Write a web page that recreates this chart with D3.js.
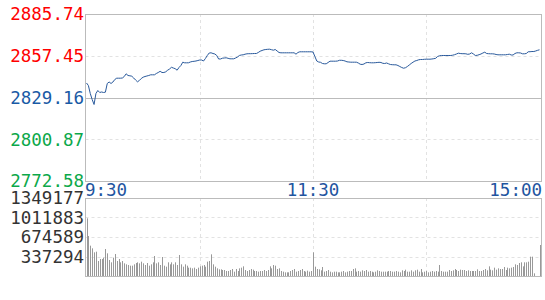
<!DOCTYPE html>
<html><head><meta charset="utf-8">
<script src="https://cdn.jsdelivr.net/npm/d3@7"></script>
<style>html,body{margin:0;padding:0;background:#fff;}svg{display:block;}</style>
</head><body><svg id="c" width="545" height="300"></svg>
<script>
const priceTicks = [2885.74, 2857.45, 2829.16, 2800.87, 2772.58];
const volTicks = [1349177, 1011883, 674589, 337294];
const timeLabels = ["9:30", "11:30", "15:00"];
const prices = [
2838.99,2837.29,2831.87,2827.80,2824.42,2831.87,2833.90,2832.55,2832.89,2832.55,
2832.75,2838.65,2839.66,2838.65,2839.66,2841.36,2842.24,2842.24,2842.24,2842.37,
2843.39,2845.22,2844.07,2843.86,2843.59,2842.37,2841.02,2839.80,2840.68,2842.03,
2842.92,2843.39,2843.73,2844.07,2844.54,2844.54,2844.54,2845.42,2846.10,2846.91,
2846.10,2846.10,2846.57,2847.66,2848.47,2849.62,2849.15,2848.67,2847.66,2849.49,
2850.84,2853.08,2852.67,2852.67,2852.67,2853.21,2853.55,2853.69,2853.89,2854.23,
2854.57,2854.57,2853.89,2855.59,2857.62,2859.31,2859.45,2858.97,2858.64,2857.62,
2855.25,2855.25,2855.79,2855.93,2856.06,2855.72,2855.38,2855.38,2855.38,2855.93,
2856.60,2857.62,2857.96,2858.09,2858.50,2858.77,2858.84,2858.84,2858.91,2858.97,
2858.97,2859.65,2860.53,2861.01,2861.48,2861.68,2861.82,2861.89,2861.55,2861.21,
2861.68,2860.67,2859.65,2859.45,2859.45,2859.45,2859.45,2859.45,2859.45,2859.45,
2859.45,2858.50,2859.65,2860.13,2860.13,2860.13,2860.13,2860.13,2860.13,2860.13,
2859.99,2856.94,2853.89,2853.21,2853.01,2852.20,2852.00,2852.00,2852.88,2853.76,
2853.76,2853.76,2853.76,2853.89,2854.37,2854.37,2854.23,2853.89,2853.35,2853.21,
2853.08,2853.08,2853.08,2853.08,2852.54,2851.72,2851.52,2851.86,2852.67,2852.88,
2852.74,2852.67,2852.67,2852.74,2852.88,2853.01,2852.88,2852.33,2852.20,2852.54,
2852.00,2851.52,2851.39,2851.32,2851.32,2850.84,2850.17,2849.49,2849.01,2849.35,
2850.17,2851.18,2852.20,2853.08,2853.89,2854.23,2854.71,2854.91,2854.91,2855.04,
2855.11,2855.11,2855.11,2855.25,2855.45,2855.72,2856.94,2857.42,2857.62,2857.62,
2857.62,2857.62,2857.62,2857.62,2857.82,2858.16,2858.64,2859.18,2858.97,2858.84,
2858.84,2858.77,2858.43,2858.64,2859.45,2858.64,2857.62,2857.75,2858.16,2858.64,
2859.31,2859.86,2858.97,2858.84,2858.77,2858.77,2858.64,2858.30,2858.09,2858.09,
2858.09,2858.09,2858.09,2858.30,2858.50,2857.96,2857.96,2858.97,2859.45,2859.45,
2859.31,2858.77,2858.77,2858.97,2860.13,2860.19,2860.33,2860.33,2860.67,2861.14,
2861.48];
const volumes = [
997500,691900,524700,478600,409400,420900,259500,294100,294100,317100,
467000,392100,276800,236400,317100,380600,259500,294100,236400,259500,
219100,201800,190300,178700,178700,201800,224900,236400,219100,247900,
219100,190300,224900,178700,201800,236400,346000,219100,236400,190300,
328700,178700,161400,236400,201800,236400,201800,236400,190300,363300,
201800,161400,201800,178700,144200,144200,132600,144200,121100,144200,
167200,178700,190300,161400,247900,259500,374800,201800,161400,132600,
115300,115300,103800,103800,86500,86500,103800,121100,75000,121100,
86500,132600,144200,167200,103800,86500,103800,121100,109600,86500,
86500,75000,86500,86500,103800,86500,103800,167200,132600,190300,
178700,121100,132600,86500,75000,63400,63400,63400,86500,103800,
121100,75000,86500,103800,121100,86500,75000,92300,75000,86500,
409400,161400,121100,115300,98000,155700,75000,86500,103800,75000,
63400,75000,75000,63400,63400,75000,86500,63400,75000,86500,
86500,121100,132600,75000,86500,75000,98000,86500,103800,75000,
86500,75000,63400,75000,98000,86500,75000,75000,75000,75000,
86500,86500,75000,75000,86500,75000,63400,98000,86500,109600,
75000,75000,98000,75000,98000,109600,75000,121100,63400,75000,
86500,63400,75000,86500,75000,86500,75000,190300,86500,75000,
75000,75000,103800,86500,98000,121100,103800,86500,109600,103800,
103800,86500,98000,86500,86500,86500,86500,115300,86500,86500,
103800,121100,98000,167200,109600,98000,144200,109600,132600,121100,
121100,155700,103800,144200,132600,144200,155700,201800,190300,224900,
236400,167200,236400,236400,247900,334400,334400,46100,0,0,
536200];

const svg = d3.select("#c");
const L = 85.5, R = 541.5, T = 14, B = 181, VT = 198, VB = 276;
const x = d3.scaleLinear().domain([0, 240]).range([86.5, 539.5]);
const y = d3.scaleLinear().domain([2772.58, 2885.74]).range([B, T]);
const yv = d3.scaleLinear().domain([0, 1349177]).range([VB, VT]);
const font = "DejaVu Sans Mono, monospace";
const gridC = "#e2e2e2", borderC = "#bbbbbb";

// vertical dashed grid (both panels)
const vx = [60, 120, 180];
[[T, B], [VT, VB]].forEach(([a, b]) => {
  svg.append("g").selectAll("line").data(vx).join("line")
    .attr("x1", d => Math.round(x(d)) + 0.5).attr("x2", d => Math.round(x(d)) + 0.5)
    .attr("y1", a).attr("y2", b)
    .attr("stroke", gridC).attr("stroke-dasharray", "3,3");
});
// horizontal price grid
svg.append("g").selectAll("line").data([priceTicks[1], priceTicks[3]]).join("line")
  .attr("x1", L).attr("x2", R)
  .attr("y1", d => Math.round(y(d)) + 0.5).attr("y2", d => Math.round(y(d)) + 0.5)
  .attr("stroke", gridC).attr("stroke-dasharray", "3,3");
svg.append("line").attr("x1", L).attr("x2", R)
  .attr("y1", Math.round(y(priceTicks[2])) + 0.5).attr("y2", Math.round(y(priceTicks[2])) + 0.5)
  .attr("stroke", borderC);
// horizontal volume grid
svg.append("g").selectAll("line").data(volTicks.slice(1)).join("line")
  .attr("x1", L).attr("x2", R)
  .attr("y1", d => Math.round(yv(d)) + 0.5).attr("y2", d => Math.round(yv(d)) + 0.5)
  .attr("stroke", gridC).attr("stroke-dasharray", "3,3");

// volume bars
svg.append("g").selectAll("rect").data(volumes).join("rect")
  .attr("x", (d, i) => Math.round(x(i)))
  .attr("width", 1)
  .attr("y", d => yv(d))
  .attr("height", d => VB - yv(d))
  .attr("fill", "#999999");

// borders
svg.append("rect").attr("x", L).attr("y", T + 0.5).attr("width", R - L).attr("height", B - T)
  .attr("fill", "none").attr("stroke", borderC);
svg.append("rect").attr("x", L).attr("y", VT + 0.5).attr("width", R - L).attr("height", VB - VT)
  .attr("fill", "none").attr("stroke", borderC);

// price line
svg.append("path").datum(prices)
  .attr("d", d3.line().x((d, i) => x(i)).y(d => y(d)))
  .attr("fill", "none").attr("stroke", "#2a5a9c").attr("stroke-width", 1);

// price labels
const pColors = ["#ff0000", "#ff0000", "#1a5aa5", "#0ca84a", "#0ca84a"];
svg.append("g").selectAll("text").data(priceTicks).join("text")
  .attr("x", 84).attr("y", d => y(d))
  .attr("dy", "0.36em")
  .attr("text-anchor", "end")
  .attr("font-family", font).attr("font-size", 17.5)
  .attr("fill", (d, i) => pColors[i])
  .text(d => d.toFixed(2));
// volume labels
svg.append("g").selectAll("text").data(volTicks).join("text")
  .attr("x", 84).attr("y", d => yv(d))
  .attr("dy", "0.36em")
  .attr("text-anchor", "end")
  .attr("font-family", font).attr("font-size", 17.5)
  .attr("fill", "#333333")
  .text(d => d);
// time labels
const tPos = [[0, "start", 85], [120, "middle", null], [240, "end", 542]];
svg.append("g").selectAll("text").data(timeLabels).join("text")
  .attr("x", (d, i) => tPos[i][2] !== null ? tPos[i][2] : x(tPos[i][0]))
  .attr("y", 196)
  .attr("text-anchor", (d, i) => tPos[i][1])
  .attr("font-family", font).attr("font-size", 17.5)
  .attr("fill", "#1f55a0")
  .text(d => d);
</script></body></html>
